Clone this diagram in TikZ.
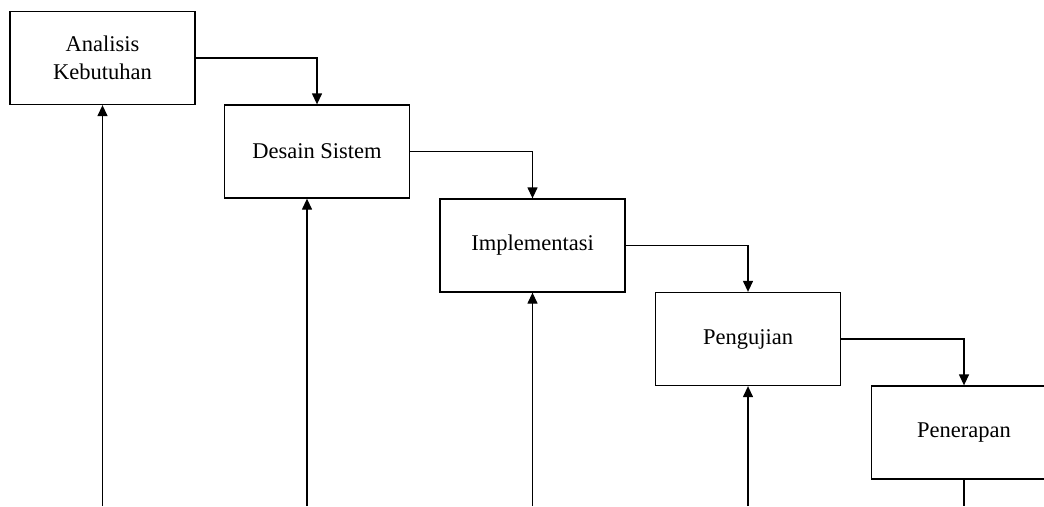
\documentclass[tikz,border=0pt]{standalone}
\usepackage{fontspec}
\setmainfont{Liberation Serif}
\usetikzlibrary{arrows.meta}

\begin{document}
\begin{tikzpicture}[
            x=1pt, y=-1pt,
            tahap/.style = {shape=rectangle, draw, line width=1.3pt, align=center, inner sep=0pt,
                            minimum width=185pt, minimum height=93pt,
                            font=\fontsize{22.5}{28}\selectfont},
            panah/.style = {line width=1.3pt, -{Triangle[length=11pt, width=10pt]}}
        ]

        \clip (0,0) rectangle (1044,506);
        \useasboundingbox (0,0) rectangle (1044,506);

        % tahapan
        \node[tahap] (analisis) at (102.5,58) {Analisis\\Kebutuhan};
        \node[tahap] (desain) at (317,151.5) {Desain Sistem};
        \node[tahap] (implementasi) at (532.5,245.5) {Implementasi};
        \node[tahap] (pengujian) at (748,339) {Pengujian};
        \node[tahap] (penerapan) at (964,432.5) {Penerapan};

        % alur turun
        \draw[panah] (analisis.east) -| (desain.north);
        \draw[panah] (desain.east) -| (implementasi.north);
        \draw[panah] (implementasi.east) -| (pengujian.north);
        \draw[panah] (pengujian.east) -| (penerapan.north);

        % alur balik dari bawah
        \coordinate (balikA) at (102.5,506);
        \coordinate (balikD) at (307,506);
        \coordinate (balikI) at (532.5,506);
        \coordinate (balikU) at (748,506);
        \coordinate (balikP) at (964,506);
        \draw[panah] (balikA) -- (analisis.south);
        \draw[panah] (balikD) -- (balikD |- desain.south);
        \draw[panah] (balikI) -- (implementasi.south);
        \draw[panah] (balikU) -- (pengujian.south);
        \draw[line width=1.3pt] (penerapan.south) -- (balikP);
    \end{tikzpicture}
\end{document}
